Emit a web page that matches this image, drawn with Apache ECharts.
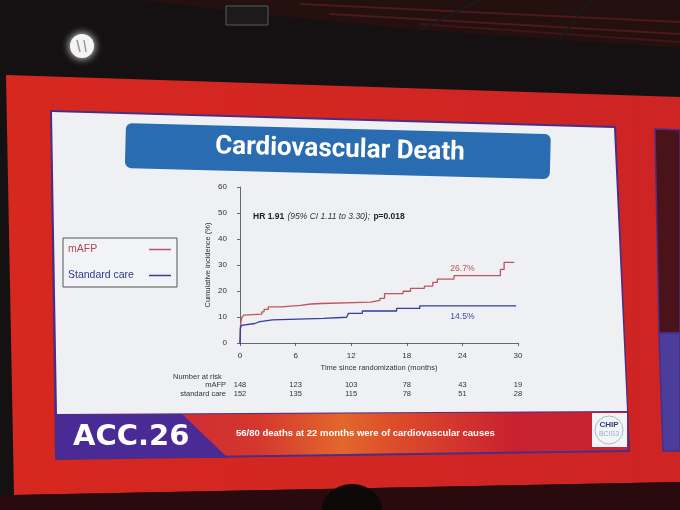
<!DOCTYPE html>
<html>
<head>
<meta charset="utf-8">
<script src="https://cdn.jsdelivr.net/npm/echarts@6/dist/echarts.min.js"></script>
<style>
html,body{margin:0;padding:0;background:#151113;}
#chart{width:680px;height:510px;}
</style>
</head>
<body>
<div id="chart"></div>
<script>
// ---- data ----
const monthTicks = [0, 6, 12, 18, 24, 30];
const riskMafp = [148, 123, 103, 78, 43, 19];
const riskStd = [152, 135, 115, 78, 51, 28];
const mafpTime = [0, 0.04, 0.1, 0.2, 0.4, 0.6, 2.35, 2.6, 3.05, 4.5, 6.5, 7.65, 8.8, 14.1, 15.1, 15.6, 17.6, 18.4, 19.9, 20.8, 21.3, 23.1, 28.1, 28.5, 29.6];
const mafpCum  = [0, 6.2, 8.1, 9.8, 10.7, 11.1, 12.0, 12.9, 13.9, 14.5, 15.0, 15.2, 15.7, 16.4, 17.2, 19.0, 19.9, 21.0, 21.9, 23.3, 24.6, 25.9, 28.3, 31.0, 31.0];
const stdTime = [0, 0.04, 0.15, 0.35, 1.6, 2.15, 3.5, 9.0, 11.5, 11.7, 13.2, 16.9, 19.4, 29.8];
const stdCum  = [0, 5.5, 6.8, 7.5, 8.2, 8.9, 9.5, 9.9, 10.5, 11.4, 12.3, 13.3, 14.3, 14.3];
const mafpEnd = [24, 26.7];
const stdEnd = [24, 14.5];
const seriesNames = ['mAFP', 'Standard care'];
const riskRowNames = ['mAFP', 'standard care'];

const RED = '#bd5560', BLUE = '#363c9c';
const FONT = 'Liberation Sans';

function pairs(t, v) { return t.map((x, i) => [x, v[i]]); }

const chart = echarts.init(document.getElementById('chart'));

const bg = [
  // ceiling
  {type:'polygon', shape:{points:[[140,0],[680,0],[680,48],[560,40],[420,30],[260,14]]}, style:{fill:'#24100f'}},
  {type:'line', shape:{x1:300,y1:4,x2:680,y2:22}, style:{stroke:'#4a1a1d',lineWidth:2}},
  {type:'line', shape:{x1:330,y1:14,x2:680,y2:34}, style:{stroke:'#4a1a1d',lineWidth:2}},
  {type:'line', shape:{x1:420,y1:24,x2:680,y2:42}, style:{stroke:'#3e1719',lineWidth:2}},
  {type:'line', shape:{x1:480,y1:0,x2:420,y2:30}, style:{stroke:'#1a1a1a',lineWidth:2}},
  {type:'line', shape:{x1:590,y1:0,x2:560,y2:40}, style:{stroke:'#1a1a1a',lineWidth:2}},
  {type:'rect', shape:{x:226,y:6,width:42,height:19}, style:{fill:'#1b1b1b',stroke:'#5a5a5a',lineWidth:1}},
  {type:'circle', shape:{cx:82,cy:46,r:12}, style:{fill:'#f4f4f4',shadowBlur:8,shadowColor:'#ffffff'}},
  {type:'line', shape:{x1:77,y1:40,x2:80,y2:52}, style:{stroke:'#999',lineWidth:1.5}},
  {type:'line', shape:{x1:84,y1:40,x2:86,y2:52}, style:{stroke:'#999',lineWidth:1.5}},
  // red slide
  {type:'polygon', shape:{points:[[6,75],[680,97],[680,482],[14,495]]},
   style:{fill:{type:'linear',x:0,y:0,x2:1,y2:0,colorStops:[{offset:0,color:'#d7281f'},{offset:1,color:'#cd2424'}]}}},
  // curtain bottom
  {type:'polygon', shape:{points:[[14,495],[680,482],[680,510],[0,510],[0,496]]}, style:{fill:'#2a0b0d'}},
  {type:'ellipse', shape:{cx:352,cy:510,rx:30,ry:26}, style:{fill:'#0c0808'}},
  // right adjacent panel
  {type:'polygon', shape:{points:[[655,129],[680,130],[680,333],[659,333]]}, style:{fill:'#4a1219',stroke:'#4b2d86',lineWidth:1.5}},
  {type:'polygon', shape:{points:[[659,333],[680,333],[680,451],[663,451]]}, style:{fill:'#4b3d9c',stroke:'#4b2d86',lineWidth:1.5}},
  // slide border
  {type:'polygon', shape:{points:[[50,110],[616,126],[630,452],[55,460]]}, style:{fill:'#4b2d86'}},
  // white panel
  {type:'polygon', shape:{points:[[52,112],[614,128],[627,411],[57,414]]}, style:{fill:'#eef0f3'}},
  // band
  {type:'polygon', shape:{points:[[57,415],[627,412],[628,450],[57,458]]},
   style:{fill:{type:'linear',x:0,y:0,x2:1,y2:0,colorStops:[
     {offset:0,color:'#c21f3a'},{offset:0.35,color:'#d5362e'},{offset:0.5,color:'#e2672c'},
     {offset:0.6,color:'#dd4a2a'},{offset:0.8,color:'#c92130'},{offset:1,color:'#c82432'}]}}},
  {type:'polygon', shape:{points:[[57,415],[182,414],[228,458],[57,458]]}, style:{fill:'#4a2b96'}},
  // CHIP logo
  {type:'rect', shape:{x:592,y:413,width:35,height:34}, style:{fill:'#f3f4f6'}},
  {type:'circle', shape:{cx:609,cy:430,r:14}, style:{fill:'none',stroke:'#9aa8c0',lineWidth:0.8}},
  // title box
  {type:'rect', x:126, y:123, rotation:-0.026, shape:{x:0,y:0,width:425,height:45,r:6}, style:{fill:'#2a6cb2'}}
];
bg.forEach(e => { e.z = -10; e.silent = true; });

const texts = [
  {type:'text', x:340, y:150, rotation:-0.026,
   style:{text:'Cardiovascular Death', fill:'#ffffff', font:'bold 26px Roboto', textAlign:'center', textVerticalAlign:'middle', align:'center', verticalAlign:'middle'}},
  {type:'text', x:73, y:437,
   style:{text:'ACC.26', fill:'#ffffff', font:'bold 29px "DejaVu Sans"', textAlign:'left', textVerticalAlign:'middle', align:'left', verticalAlign:'middle'}},
  {type:'text', x:236, y:433,
   style:{text:'56/80 deaths at 22 months were of cardiovascular causes', fill:'#ffffff', font:'bold 9.5px "Liberation Sans"', textAlign:'left', textVerticalAlign:'middle', align:'left', verticalAlign:'middle'}},
  {type:'text', x:609, y:425,
   style:{text:'CHIP', fill:'#2b3d78', font:'bold 8px "Liberation Sans"', textAlign:'center', textVerticalAlign:'middle', align:'center', verticalAlign:'middle'}},
  {type:'text', x:609, y:434,
   style:{text:'BCIS3', fill:'#8eaed6', font:'7px "Liberation Sans"', textAlign:'center', textVerticalAlign:'middle', align:'center', verticalAlign:'middle'}},
  {type:'text', x:253, y:217,
   style:{text:'{b|HR 1.91} {i|(95% CI 1.11 to 3.30);} {b|p=0.018}',
     textVerticalAlign:'middle', verticalAlign:'middle',
     rich:{b:{fontWeight:'bold', fontSize:8.5, fill:'#222', color:'#222', fontFamily:FONT},
           i:{fontStyle:'italic', fontSize:8.5, fill:'#333', color:'#333', fontFamily:FONT}}}},
  {type:'text', x:173, y:377,
   style:{text:'Number at risk', fill:'#333', font:'7.5px "Liberation Sans"', textAlign:'left', textVerticalAlign:'middle', align:'left', verticalAlign:'middle'}},
  {type:'text', x:226, y:385,
   style:{text:riskRowNames[0], fill:'#333', font:'7.5px "Liberation Sans"', textAlign:'right', textVerticalAlign:'middle', align:'right', verticalAlign:'middle'}},
  {type:'text', x:226, y:394,
   style:{text:riskRowNames[1], fill:'#333', font:'7.5px "Liberation Sans"', textAlign:'right', textVerticalAlign:'middle', align:'right', verticalAlign:'middle'}}
];
texts.forEach(e => { e.z = 10; e.silent = true; });

function riskAxis(values, offset) {
  return {
    type:'value', gridIndex:0, position:'bottom', min:0, max:30, interval:6, offset:offset, z:5,
    axisLine:{show:false}, axisTick:{show:false}, splitLine:{show:false},
    axisLabel:{show:true, margin:0, fontSize:7.5, fontFamily:FONT, color:'#333',
      showMinLabel:true, showMaxLabel:true,
      formatter: v => { const i = monthTicks.indexOf(v); return i >= 0 ? String(values[i]) : ''; }}
  };
}

const option = {
  backgroundColor:'#151113',
  animation:false,
  graphic:{elements: bg.concat(texts)},
  legend:{
    left:63, top:238, orient:'vertical', align:'right', z:6,
    padding:[6,6,6,5], itemGap:15, itemWidth:22, itemHeight:1.5, icon:'rect',
    borderColor:'#555', borderWidth:1, backgroundColor:'#f1f3f6',
    formatter: name => '{t|' + name + '}',
    textStyle:{fontSize:10.5, fontFamily:FONT,
      rich:{t:{width:76, align:'left', fontSize:10.5, fontFamily:FONT}}},
    data:[
      {name:seriesNames[0], textStyle:{color:'#b04a56'}, itemStyle:{color:RED}},
      {name:seriesNames[1], textStyle:{color:'#2c3d8c'}, itemStyle:{color:BLUE}}
    ]
  },
  grid:{left:240, right:162, top:187, bottom:167},
  xAxis:[
    {type:'value', min:0, max:30, interval:6, offset:4, z:5,
     name:'Time since randomization (months)', nameLocation:'middle', nameGap:17,
     nameTextStyle:{fontSize:7.5, fontFamily:FONT, color:'#333'},
     axisLine:{show:true, lineStyle:{color:'#444', width:0.8}},
     axisTick:{show:true, length:3, lineStyle:{color:'#444', width:0.8}},
     axisLabel:{fontSize:8, fontFamily:FONT, color:'#333', margin:5},
     splitLine:{show:false}},
    riskAxis(riskMafp, 38),
    riskAxis(riskStd, 47)
  ],
  yAxis:{type:'value', min:0, max:60, interval:10, offset:9, z:5,
    name:'Cumulative incidence (%)', nameLocation:'middle', nameGap:19, nameRotate:90,
    nameTextStyle:{fontSize:7.5, fontFamily:FONT, color:'#333'},
    axisLine:{show:true, lineStyle:{color:'#444', width:0.8}},
    axisTick:{show:true, length:3, lineStyle:{color:'#444', width:0.8}},
    axisLabel:{fontSize:8, fontFamily:FONT, color:'#333', margin:4},
    splitLine:{show:false}},
  series:[
    {name:seriesNames[0], type:'line', step:'end', symbol:'none', z:5,
     data:pairs(mafpTime, mafpCum), lineStyle:{color:RED, width:1.3}, itemStyle:{color:RED},
     markPoint:{symbol:'circle', symbolSize:0, silent:true,
       data:[{coord:mafpEnd, value:mafpEnd[1]}],
       label:{show:true, position:'inside', offset:[0,-5], formatter:p => p.value + '%', color:RED, fontSize:8.5, fontFamily:FONT}}},
    {name:seriesNames[1], type:'line', step:'end', symbol:'none', z:5,
     data:pairs(stdTime, stdCum), lineStyle:{color:BLUE, width:1.3}, itemStyle:{color:BLUE},
     markPoint:{symbol:'circle', symbolSize:0, silent:true,
       data:[{coord:stdEnd, value:stdEnd[1]}],
       label:{show:true, position:'inside', offset:[0,11.5], formatter:p => p.value + '%', color:'#3a4aa8', fontSize:8.5, fontFamily:FONT}}}
  ]
};
chart.setOption(option);
</script>
</body>
</html>
